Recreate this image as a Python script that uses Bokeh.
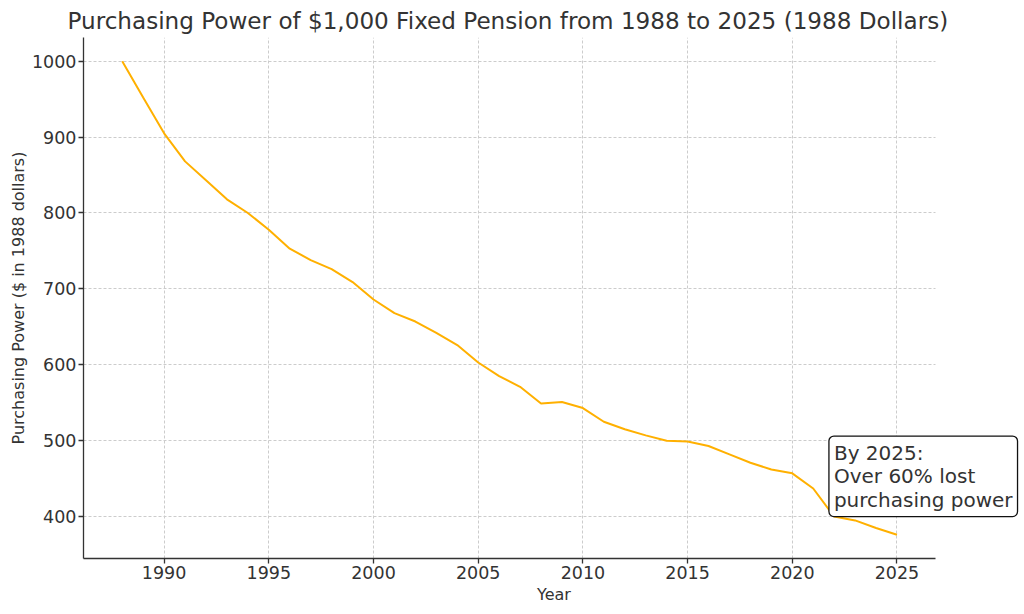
from bokeh.plotting import figure
from bokeh.models import Range1d, FixedTicker, Label
from bokeh.embed import file_html
from bokeh.resources import INLINE

years = list(range(1988, 2026))
power = [1000, 952, 905, 868, 843, 818, 800, 778, 753, 738, 726, 709, 686, 668,
         657, 642, 626, 603, 585, 571, 549, 551, 543, 525, 515, 507, 500, 499,
         493, 482, 471, 462, 457, 437, 400, 395, 385, 376]
x_ticks = [1990, 1995, 2000, 2005, 2010, 2015, 2020, 2025]
y_ticks = [400, 500, 600, 700, 800, 900, 1000]
title_text = "Purchasing Power of $1,000 Fixed Pension from 1988 to 2025 (1988 Dollars)"
note_text = "By 2025:\nOver 60% lost\npurchasing power"
note_x, note_y = 2021.75, 400

X_LO, X_HI = 1986.15, 2026.85      # axis extent
X_VIEW_HI = 2031.09                # frame extends right so the note box fits

FONT = "DejaVu Sans"
DARK = "#333333"

p = figure(width=1024, height=614, output_backend="svg", toolbar_location=None,
           x_range=Range1d(X_LO, X_VIEW_HI), y_range=Range1d(344.8, 1031.2),
           min_border_left=83, min_border_right=0, min_border_top=37,
           min_border_bottom=56)
p.outline_line_color = None
p.background_fill_color = "white"
p.border_fill_color = "white"

p.title.text = title_text
p.title.align = "left"
p.title.offset = -16
p.title.standoff = 7
p.title.text_font = FONT
p.title.text_font_size = "23.1px"
p.title.text_font_style = "normal"
p.title.text_color = DARK

p.line(years, power, line_color="#FFB000", line_width=2)

for ax in (p.xaxis, p.yaxis):
    ax.axis_line_color = DARK
    ax.axis_line_width = 1.3
    ax.major_tick_line_color = DARK
    ax.major_tick_line_width = 1.3
    ax.major_tick_out = 5
    ax.major_tick_in = 0
    ax.minor_tick_line_color = None
    ax.major_label_text_font = FONT
    ax.major_label_text_font_size = "17.5px"
    ax.major_label_text_color = DARK
    ax.axis_label_text_font = FONT
    ax.axis_label_text_font_size = "16px"
    ax.axis_label_text_font_style = "normal"
    ax.axis_label_text_color = DARK

p.xaxis.bounds = (X_LO, X_HI)
p.xaxis.ticker = FixedTicker(ticks=x_ticks)
p.yaxis.ticker = FixedTicker(ticks=y_ticks)
p.xaxis.axis_label = "Year"
p.yaxis.axis_label = "Purchasing Power ($ in 1988 dollars)"
p.xaxis.major_label_standoff = 2
p.xaxis.axis_label_standoff = 3
p.yaxis.major_label_standoff = 2
p.yaxis.axis_label_standoff = 1

for g in (p.xgrid, p.ygrid):
    g.grid_line_color = "#cccccc"
    g.grid_line_dash = "3 2"
    g.grid_line_width = 1
p.xgrid.ticker = FixedTicker(ticks=x_ticks)
p.ygrid.ticker = FixedTicker(ticks=y_ticks)
p.ygrid.cross_bounds = (X_LO, X_HI)

note = Label(x=note_x, y=note_y, text=note_text, text_font=FONT,
             text_font_size="20px", text_color=DARK, text_align="left",
             text_baseline="bottom", background_fill_color="white",
             border_line_color="#111111", border_line_width=1.3,
             border_radius=5, padding=5, text_line_height=0.97)
p.add_layout(note)

open("out.html", "w").write(file_html(p, INLINE))
